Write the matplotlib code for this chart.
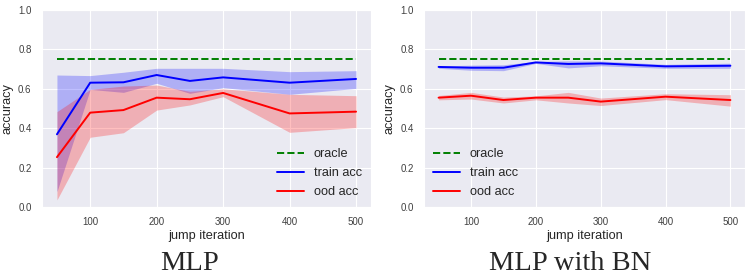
import matplotlib
matplotlib.use("Agg")
import matplotlib.pyplot as plt
import seaborn as sns
import numpy as np

sns.set_style("darkgrid")
plt.rcParams['font.family'] = ['Liberation Sans', 'DejaVu Sans']

iters = [50, 100, 150, 200, 250, 300, 400, 500]
oracle = 0.75

# MLP
mlp_train = [0.369, 0.631, 0.633, 0.670, 0.640, 0.658, 0.631, 0.650]
mlp_train_hi = [0.670, 0.667, 0.684, 0.704, 0.704, 0.704, 0.687, 0.692]
mlp_train_lo = [0.078, 0.597, 0.582, 0.628, 0.577, 0.606, 0.572, 0.602]
mlp_ood = [0.253, 0.479, 0.492, 0.555, 0.547, 0.579, 0.475, 0.484]
mlp_ood_hi = [0.484, 0.597, 0.614, 0.619, 0.587, 0.600, 0.572, 0.565]
mlp_ood_lo = [0.036, 0.354, 0.377, 0.492, 0.518, 0.560, 0.379, 0.403]

# MLP with BN
bn_train = [0.711, 0.707, 0.707, 0.734, 0.726, 0.729, 0.714, 0.717]
bn_train_hi = [0.716, 0.720, 0.722, 0.739, 0.742, 0.741, 0.724, 0.730]
bn_train_lo = [0.704, 0.694, 0.692, 0.729, 0.706, 0.717, 0.704, 0.704]
bn_ood = [0.555, 0.565, 0.543, 0.555, 0.555, 0.535, 0.560, 0.543]
bn_ood_hi = [0.566, 0.582, 0.558, 0.564, 0.582, 0.553, 0.575, 0.570]
bn_ood_lo = [0.544, 0.548, 0.528, 0.544, 0.528, 0.515, 0.545, 0.512]

titles = ["MLP", "MLP with BN"]
xticks = [100, 200, 300, 400, 500]
yticks = [0.0, 0.2, 0.4, 0.6, 0.8, 1.0]

W, H = 748, 278
fig = plt.figure(figsize=(W / 100, H / 100), dpi=100)

def px_axes(x0, x1, ytop, ybot):
    return fig.add_axes([x0 / W, 1 - ybot / H, (x1 - x0) / W, (ybot - ytop) / H])

ax1 = px_axes(42, 371, 10, 207)
ax2 = px_axes(424, 745, 10, 207)

panels = [
    (ax1, mlp_train, mlp_train_lo, mlp_train_hi, mlp_ood, mlp_ood_lo, mlp_ood_hi, 'lower right'),
    (ax2, bn_train, bn_train_lo, bn_train_hi, bn_ood, bn_ood_lo, bn_ood_hi, 'lower left'),
]

for ax, tr, trl, trh, od, odl, odh, loc in panels:
    ax.plot(iters, [oracle] * len(iters), '--', color='green', lw=1.4, label='oracle')
    ax.plot(iters, tr, color='blue', lw=1.4, label='train acc')
    ax.fill_between(iters, trl, trh, color='blue', alpha=0.25, lw=0)
    ax.plot(iters, od, color='red', lw=1.4, label='ood acc')
    ax.fill_between(iters, odl, odh, color='red', alpha=0.25, lw=0)
    ax.set_ylim(0, 1.0)
    ax.set_xticks(xticks)
    ax.set_yticks(yticks)
    ax.tick_params(labelsize=7, pad=4, colors='#404040')
    ax.set_xlabel('jump iteration', fontsize=9.2, labelpad=2, color='#262626')
    ax.set_ylabel('accuracy', fontsize=9.2, labelpad=3, color='#262626')
    ax.legend(loc=loc, fontsize=9.2, frameon=False, handlelength=2.1,
              borderaxespad=0.3, labelspacing=0.55)

fig.text(190 / W, 1 - 263 / H, titles[0], ha='center', va='center',
         fontsize=20.5, family='Liberation Serif')
fig.text(570 / W, 1 - 263 / H, titles[1], ha='center', va='center',
         fontsize=20.5, family='Liberation Serif')

fig.savefig('out.png', dpi=100)
